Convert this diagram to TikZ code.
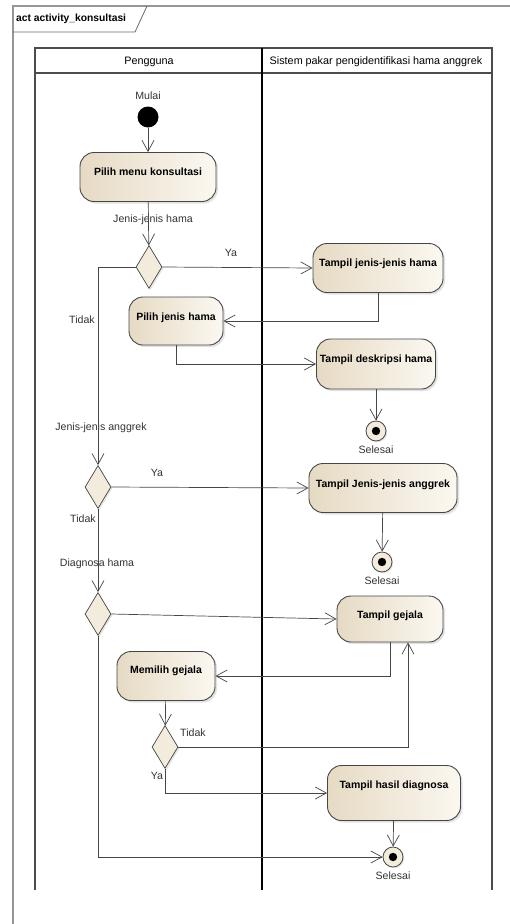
\documentclass[tikz,border=0pt]{standalone}
\usepackage{fontspec}
\setmainfont{Liberation Sans}
\usetikzlibrary{
	shapes.geometric,
	arrows.meta,
	positioning,
	shadows
}
\definecolor{actleft}{RGB}{230,218,196}
\definecolor{actright}{RGB}{251,248,241}
\definecolor{decfill}{RGB}{243,235,220}
\definecolor{lineclr}{RGB}{70,70,70}
\definecolor{frameclr}{RGB}{150,150,150}

\begin{document}
\begin{tikzpicture}[
				x=1pt, y=-1pt,
				action/.style={
					rectangle, draw=lineclr, line width=0.9pt, rounded corners=14pt,
					left color=actleft, right color=actright,
					drop shadow={shadow xshift=2pt, shadow yshift=-2pt, fill=gray!45},
					align=center, inner sep=2pt,
					font=\bfseries\fontsize{10.5}{12}\selectfont,
					text height=7pt, text depth=9.4pt
				},
				decision/.style={
					diamond, draw=lineclr, line width=0.7pt, fill=decfill,
					drop shadow={shadow xshift=1.5pt, shadow yshift=-1.5pt, fill=gray!40},
					minimum width=26pt, minimum height=43pt, inner sep=0pt
				},
				startnode/.style={
					circle, fill=black, minimum size=21pt, inner sep=0pt
				},
				endnode/.style={
					circle, draw=lineclr, line width=0.8pt, fill=decfill,
					drop shadow={shadow xshift=1.2pt, shadow yshift=-1.2pt, fill=gray!40},
					minimum size=20pt, inner sep=0pt,
					path picture={\fill[black] (path picture bounding box.center) circle (4.2pt);}
				},
				lbl/.style={
					font=\fontsize{10.6}{12}\selectfont, text=black!80, inner sep=1pt
				},
				lanehead/.style={
					font=\fontsize{10.8}{12}\selectfont, inner sep=0pt
				},
				arrow/.style={-{Straight Barb[length=11pt, width=12pt, line width=0.7pt]},
					line width=0.7pt, lineclr},
				lane/.style={line width=1.2pt, black!70}
				]
				
				\useasboundingbox (0,0) rectangle (510,924);
				
				% frame
				\draw[frameclr, line width=1.5pt] (510,6) -- (13,6) -- (13,924);
				\draw[frameclr!70!black, line width=0.8pt] (13,32) -- (135,32) -- (147,6);
				\node[font=\bfseries\fontsize{10.3}{12}\selectfont, anchor=west, inner sep=0pt] (frameTitle) at (16,19) {act activity\_konsultasi};
				
				% swimlanes
				\draw[lane] (35,890) -- (35,48) -- (492,48) -- (492,890);
				\draw[lane] (35,73) -- (492,73);
				\draw[line width=1.4pt, black] (262,48) -- (262,890);
				\node[lanehead] (hPengguna) at (149,62) {Pengguna};
				\node[lanehead] (hSistem) at (376,62) {Sistem pakar pengidentifikasi hama anggrek};
				
				% start
				\node[startnode] (start) at (148,117) {};
				\node[lbl, above=5pt of start] (startLbl) {Mulai};
				
				% Pengguna actions
				\node[action, minimum width=136pt, minimum height=49pt, text depth=10.4pt] (menu) at (148,177) {Pilih menu konsultasi};
				\node[decision] (d1) at (149,267) {};
				\node[action, minimum width=94pt, minimum height=48pt, text depth=8.4pt] (pilihHama) at (176,321) {Pilih jenis hama};
				\node[decision] (d2) at (98,487) {};
				\node[decision] (d3) at (98,614) {};
				\node[action, minimum width=98pt, minimum height=49pt, text depth=11.4pt] (memilih) at (166,676) {Memilih gejala};
				\node[decision] (d4) at (165,747) {};
				
				% Sistem actions
				\node[action, minimum width=130pt, minimum height=49pt] (tampilHama) at (378,268) {Tampil jenis-jenis hama};
				\node[action, minimum width=119pt, minimum height=50pt] (deskripsi) at (376,364) {Tampil deskripsi hama};
				\node[endnode] (end1) at (376,431) {};
				\node[lbl, below=3pt of end1] (end1Lbl) {Selesai};
				\node[action, minimum width=148pt, minimum height=49pt, text depth=8.4pt] (anggrek) at (383,488) {Tampil Jenis-jenis anggrek};
				\node[endnode] (end2) at (382,562) {};
				\node[lbl, below=3pt of end2] (end2Lbl) {Selesai};
				\node[action, minimum width=106pt, minimum height=46pt, text depth=8.4pt] (gejala) at (390,619) {Tampil gejala};
				\node[action, minimum width=133pt, minimum height=55pt, text depth=15.4pt] (hasil) at (394,793) {Tampil hasil diagnosa};
				\node[endnode] (end3) at (393,857) {};
				\node[lbl, below=3pt of end3] (end3Lbl) {Selesai};
				
				% guard labels
				\node[lbl] (gHama) at (153,220) {Jenis-jenis hama};
				\node[lbl] (gYa1) at (231,253) {Ya};
				\node[lbl] (gTidak1) at (82,320) {Tidak};
				\node[lbl] (gAnggrek) at (101,428) {Jenis-jenis anggrek};
				\node[lbl] (gYa2) at (157,473) {Ya};
				\node[lbl] (gTidak2) at (83,519) {Tidak};
				\node[lbl] (gDiagnosa) at (97,564) {Diagnosa hama};
				\node[lbl] (gTidak3) at (193,733) {Tidak};
				\node[lbl] (gYa3) at (157,776) {Ya};
				
				% arrows between nodes
				\draw[arrow] (start)  -- (menu);
				\draw[arrow] (menu)   -- (d1);
				\draw[arrow] (d1.east) -- (tampilHama.west);
				\draw[arrow] (d1.west) -| (d2.north);
				\draw[arrow] (tampilHama.south) |- (pilihHama.east);
				\draw[arrow] (pilihHama.south) |- (deskripsi.west);
				\draw[arrow] (deskripsi) -- (end1);
				\draw[arrow] (d2.east) -- (anggrek.west);
				\draw[arrow] (anggrek) -- (end2);
				\draw[arrow] (d2.south) -- (d3.north);
				\draw[arrow] (d3.east) -- (gejala.west);
				\draw[arrow] (gejala.south) |- (memilih.east);
				\draw[arrow] (memilih) -- (d4);
				\draw[arrow] (d4.east) -| ([xshift=18pt]gejala.south);
				\draw[arrow] (d4.south) |- (hasil.west);
				\draw[arrow] (hasil) -- (end3);
				\draw[arrow] (d3.south) |- (end3.west);
			\end{tikzpicture}
\end{document}
